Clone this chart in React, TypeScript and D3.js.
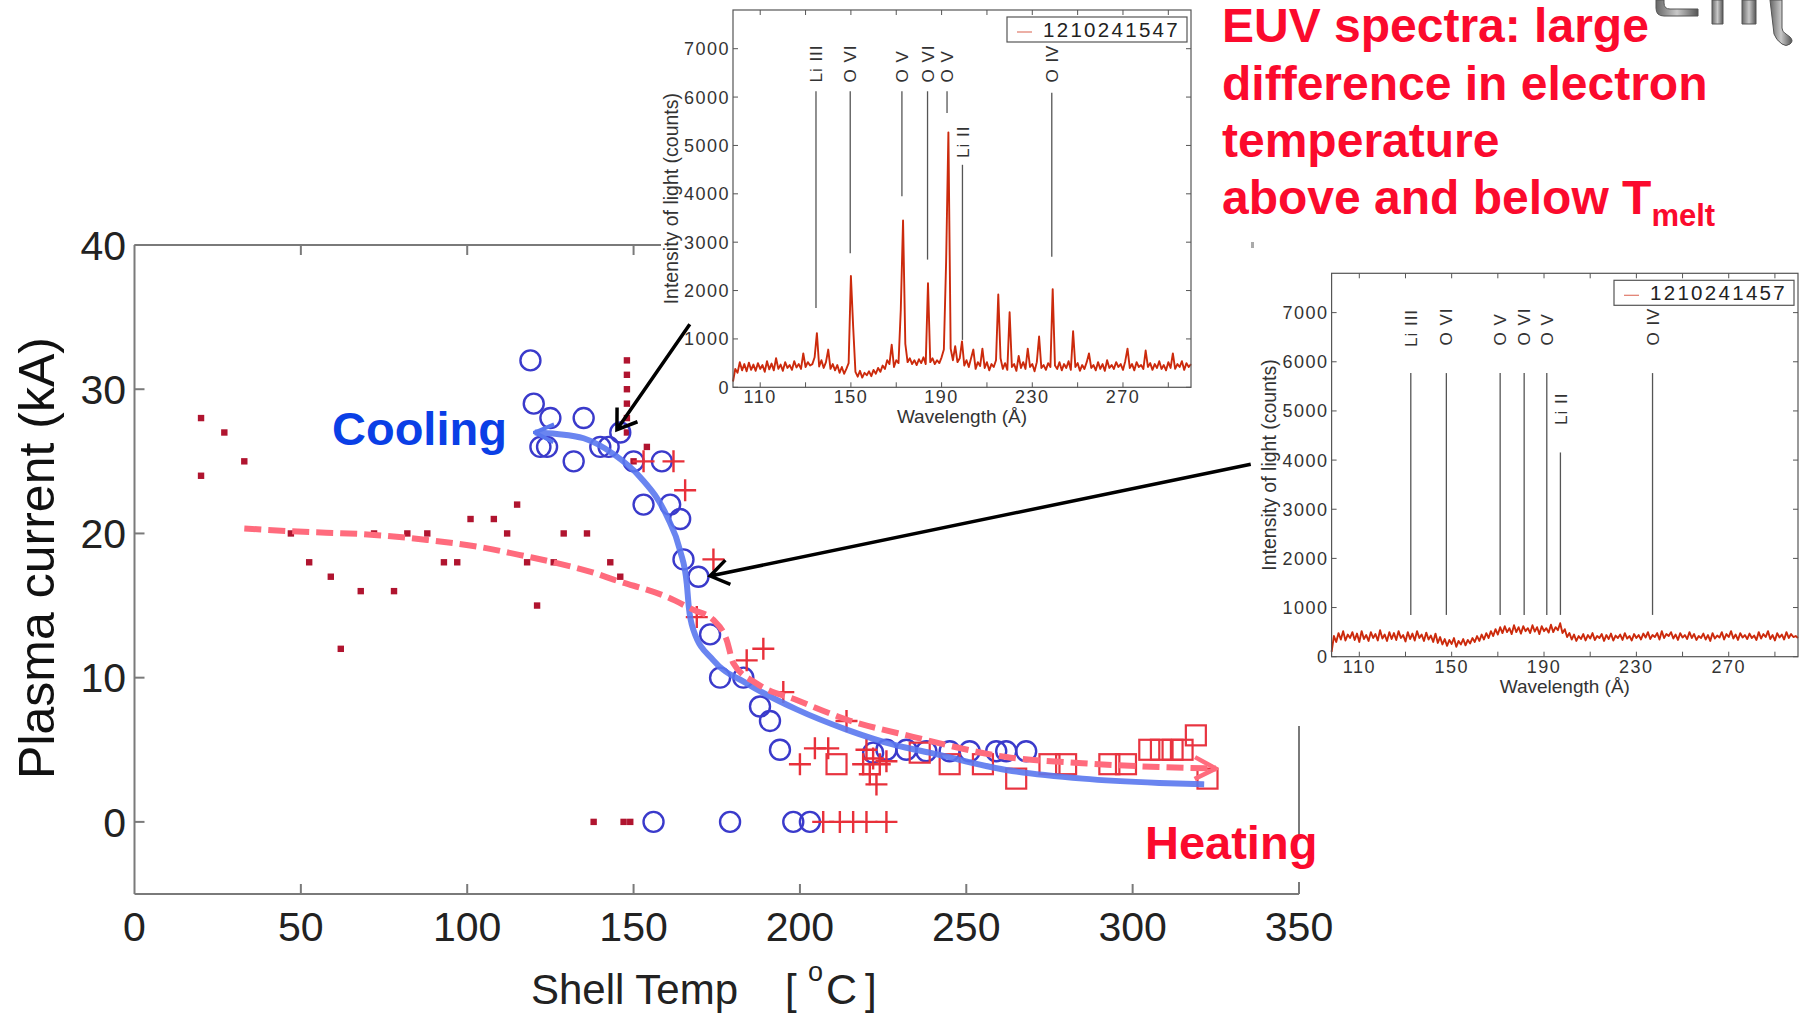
import * as d3 from "d3";

type Pt = [number, number];

const FONT = "'Liberation Sans', Arial, Helvetica, sans-serif";

// main chart: shell temperature (°C) vs plasma current (kA)
const xTicks = [0, 50, 100, 150, 200, 250, 300, 350];
const yTicks = [0, 10, 20, 30, 40];
const topTicks = [50, 100, 150];

const redDots: Pt[] = [
  [20, 28], [20, 24], [27, 27], [33, 25], [47, 20], [52.5, 18], [59, 17], [62, 12],
  [68, 16], [72, 20], [78, 16], [82, 20], [88, 20], [93, 18], [97, 18], [101, 21],
  [108, 21], [112, 20], [115, 22], [118, 18], [121, 15], [126, 18], [129, 20],
  [136, 20], [143, 18], [146, 17], [148, 32], [148, 31], [148, 30], [148, 29],
  [148, 28], [148, 27], [150, 25], [154, 26], [138, 0], [147, 0], [149, 0],
];

const blueCircles: Pt[] = [
  [119, 32], [120, 29], [125, 28], [135, 28], [146, 27], [122, 26], [124, 26],
  [140, 26], [142.5, 26], [132, 25], [150, 25], [158.5, 25], [153, 22], [161, 22],
  [164, 21], [165, 18.2], [169.5, 17], [173, 13], [176, 10], [183, 10], [188, 8],
  [191, 7], [194, 5], [222, 4.8], [226, 5], [232, 5.0], [238, 4.9], [245, 4.9],
  [251, 4.9], [259, 4.9], [262, 4.9], [268, 4.9], [156, 0], [179, 0], [198, 0], [203, 0],
];

const redCrosses: Pt[] = [
  [153, 25], [162, 25], [165.5, 23], [174, 18.2], [169, 14.2], [189, 12], [184, 11.2],
  [195, 9], [214, 7], [204.5, 5.1], [208.5, 5.1], [200, 4], [220, 5], [222, 4.4],
  [224, 4], [219, 4], [221, 3.3], [223, 2.6], [226, 4.2], [207, 0], [212, 0],
  [216, 0], [220, 0], [226, 0],
];

const redSquares: Pt[] = [
  [211, 4], [236, 4.8], [245, 4], [255, 4], [265, 3], [275, 4], [280, 4], [293, 4],
  [298, 4], [305, 5.0], [308.5, 5.0], [312, 5.0], [315, 5.0], [319, 6], [322.5, 3],
];

const coolingFit: Pt[] = [
  [120.3, 27], [127, 26.9], [135, 26.6], [144, 25.5], [152, 23.9], [160, 21.2],
  [164, 18.8], [166, 16.5], [166.6, 14.9], [168, 13.3], [174, 11.2], [184, 9.6],
  [199, 7.8], [214, 6.4], [229, 5.3], [239, 4.8], [262, 3.6], [285, 3.0],
  [308, 2.7], [321.5, 2.6],
];

const heatingFit: Pt[] = [
  [33, 20.35], [47, 20.15], [72, 19.9], [88, 19.55], [104, 19.05], [118, 18.4],
  [126, 18.0], [139, 17.2], [144, 16.8], [160, 15.6], [168, 14.7], [174, 14.0],
  [178, 12.6], [180, 11.0], [187, 9.6], [199, 8.45], [214, 7.1], [234, 5.9],
  [262, 4.5], [285, 4.07], [308, 3.8], [325, 3.7],
];

// EUV spectra (1 Å steps from specStart)
const specStart = 98;
const specXTicks = [110, 150, 190, 230, 270];
const specMinorTicks = [130, 170, 210, 250, 290];
const specYTicks = [0, 1000, 2000, 3000, 4000, 5000, 6000, 7000];

const spectrumAbove = [
  120, 380, 300, 520, 350, 480, 330, 510, 360, 470,
  340, 500, 380, 460, 320, 540, 370, 490, 350, 600,
  380, 470, 340, 520, 400, 460, 360, 540, 410, 480,
  380, 700, 420, 520, 450, 480, 620, 1120, 430, 560,
  400, 520, 780, 380, 480, 350, 460, 300, 420, 280,
  380, 500, 2300, 1250, 320, 220, 340, 200, 300, 250,
  330, 230, 360, 280, 400, 320, 450, 380, 560, 480,
  880, 420, 560, 500, 1600, 3450, 900, 520, 600, 480,
  560, 460, 580, 500, 620, 480, 2150, 520, 600, 480,
  560, 500, 620, 780, 2600, 5270, 800, 560, 850, 520,
  600, 950, 450, 560, 420, 600, 780, 380, 520, 440,
  800, 400, 520, 350, 480, 420, 560, 1920, 600, 380,
  500, 360, 1550, 420, 480, 340, 650, 400, 520, 380,
  800, 420, 480, 330, 520, 1050, 400, 460, 360, 500,
  420, 2030, 450, 380, 520, 350, 480, 400, 540, 360,
  1160, 420, 500, 340, 460, 380, 520, 700, 400, 460,
  350, 520, 380, 480, 340, 560, 400, 460, 380, 520,
  420, 480, 360, 540, 800, 400, 480, 350, 520, 420,
  460, 380, 760, 420, 500, 360, 480, 400, 540, 380,
  460, 350, 520, 400, 700, 380, 480, 420, 540, 360,
  500, 420, 480,
];

const spectrumBelow = [
  100, 420, 300, 480, 350, 520, 330, 450, 380, 500,
  340, 470, 300, 520, 360, 440, 320, 500, 380, 460,
  330, 540, 370, 450, 320, 500, 360, 480, 340, 520,
  380, 440, 310, 500, 360, 470, 330, 520, 380, 450,
  320, 490, 350, 430, 300, 470, 280, 400, 250, 360,
  220, 340, 260, 380, 200, 320, 250, 360, 230, 340,
  270, 380, 300, 420, 320, 450, 350, 480, 380, 520,
  420, 560, 450, 600, 480, 620, 500, 580, 460, 640,
  500, 600, 470, 620, 520, 580, 480, 640, 510, 600,
  460, 620, 520, 580, 490, 650, 500, 600, 540, 680,
  480, 560, 400, 480, 350, 450, 320, 420, 360, 460,
  330, 440, 370, 480, 340, 420, 380, 460, 320, 440,
  360, 470, 330, 430, 380, 450, 340, 480, 370, 420,
  330, 460, 380, 440, 350, 470, 390, 500, 360, 440,
  400, 480, 350, 520, 380, 460, 420, 500, 370, 450,
  340, 480, 390, 440, 360, 500, 380, 460, 340, 420,
  380, 470, 350, 440, 320, 480, 370, 430, 390, 500,
  350, 460, 400, 520, 370, 450, 340, 480, 390, 440,
  360, 470, 380, 430, 340, 500, 370, 460, 400, 520,
  360, 440, 330, 480, 390, 450, 350, 500, 380, 460,
  400, 420, 380,
];

type SpecLine = { label: string; w: number; lo: number; hi: number; at: number };

const linesAbove: SpecLine[] = [
  { label: "Li III", w: 134.6, lo: 1640, hi: 6120, at: 6300 },
  { label: "O VI", w: 149.7, lo: 2770, hi: 6120, at: 6300 },
  { label: "O V", w: 172.5, lo: 3950, hi: 6120, at: 6300 },
  { label: "O VI", w: 183.8, lo: 2640, hi: 6120, at: 6300 },
  { label: "O V", w: 192.4, lo: 5670, hi: 6120, at: 6300 },
  { label: "Li II", w: 199.2, lo: 980, hi: 4600, at: 4740 },
  { label: "O IV", w: 238.6, lo: 2700, hi: 6090, at: 6300 },
];

const linesBelow: SpecLine[] = [
  { label: "Li III", w: 132.3, lo: 850, hi: 5770, at: 6300 },
  { label: "O VI", w: 147.7, lo: 850, hi: 5770, at: 6330 },
  { label: "O V", w: 171, lo: 850, hi: 5770, at: 6330 },
  { label: "O VI", w: 181.4, lo: 850, hi: 5770, at: 6330 },
  { label: "O V", w: 191.2, lo: 850, hi: 5770, at: 6330 },
  { label: "Li II", w: 197.1, lo: 850, hi: 4155, at: 4714 },
  { label: "O IV", w: 237, lo: 850, hi: 5770, at: 6330 },
];

type SpecProps = {
  left: number; right: number; top: number; bottom: number;
  values: number[]; lines: SpecLine[]; shot: string; yLabelX: number;
};

function Spectrum({ left, right, top, bottom, values, lines, shot, yLabelX }: SpecProps) {
  const x = d3.scaleLinear().domain([98, 300]).range([left, right]);
  const y = d3.scaleLinear().domain([0, 7800]).range([bottom, top]);
  const path = d3.line<number>().x((_, i) => x(specStart + i)).y((d) => y(d));
  const tk = 5;
  const lx = right - 184;
  const ly = top + 7;
  return (
    <g fontFamily={FONT}>
      <path d={path(values) ?? ""} fill="none" stroke="#cc2a0c" strokeWidth={1.9} strokeLinejoin="round" />
      {lines.map((l, i) => (
        <g key={i}>
          <line x1={x(l.w)} x2={x(l.w)} y1={y(l.lo)} y2={y(l.hi)} stroke="#555" strokeWidth={1.3} />
          <text
            transform={`translate(${x(l.w)},${y(l.at)}) rotate(-90)`}
            dy="0.36em" fontSize={17} letterSpacing={1} fill="#333"
          >
            {l.label}
          </text>
        </g>
      ))}
      <rect x={left} y={top} width={right - left} height={bottom - top} fill="none" stroke="#555" strokeWidth={1.2} />
      {specXTicks.concat(specMinorTicks).map((t) => (
        <g key={t} stroke="#555" strokeWidth={1}>
          <line x1={x(t)} x2={x(t)} y1={bottom} y2={bottom - tk} />
          <line x1={x(t)} x2={x(t)} y1={top} y2={top + tk} />
        </g>
      ))}
      {specYTicks.map((t) => (
        <g key={t} stroke="#555" strokeWidth={1}>
          <line x1={left} x2={left + tk} y1={y(t)} y2={y(t)} />
          <line x1={right} x2={right - tk} y1={y(t)} y2={y(t)} />
        </g>
      ))}
      {specXTicks.map((t) => (
        <text key={t} x={x(t)} y={bottom + 16} textAnchor="middle" fontSize={18} letterSpacing={1.5} fill="#333">
          {t}
        </text>
      ))}
      {specYTicks.map((t) => (
        <text key={t} x={left - 3} y={y(t)} dy="0.36em" textAnchor="end" fontSize={18} letterSpacing={1.5} fill="#333">
          {t}
        </text>
      ))}
      <text x={(left + right) / 2} y={bottom + 36} textAnchor="middle" fontSize={19} fill="#333">
        Wavelength (Å)
      </text>
      <text
        transform={`translate(${yLabelX},${(top + bottom) / 2}) rotate(-90)`}
        textAnchor="middle" fontSize={19.5} fill="#333"
      >
        Intensity of light (counts)
      </text>
      <rect x={lx} y={ly} width={180} height={25} fill="#fff" stroke="#555" strokeWidth={1.2} />
      <line x1={lx + 10} x2={lx + 25} y1={ly + 15} y2={ly + 15} stroke="#e07a6a" strokeWidth={1.2} />
      <text x={lx + 36} y={ly + 19.5} fontSize={20.5} letterSpacing={2.3} fill="#222">
        {shot}
      </text>
    </g>
  );
}

function arrow(x1: number, y1: number, x2: number, y2: number, len = 22, ang = 0.6) {
  const a = Math.atan2(y1 - y2, x1 - x2);
  const p1 = [x2 + len * Math.cos(a + ang), y2 + len * Math.sin(a + ang)];
  const p2 = [x2 + len * Math.cos(a - ang), y2 + len * Math.sin(a - ang)];
  return `M${x1},${y1}L${x2},${y2}M${p1[0]},${p1[1]}L${x2},${y2}L${p2[0]},${p2[1]}`;
}

export default function App() {
  const x = d3.scaleLinear().domain([0, 350]).range([134.5, 1299]);
  const y = d3.scaleLinear().domain([-5, 40]).range([894, 245]);
  const fit = d3.line<Pt>().x((d) => x(d[0])).y((d) => y(d[1])).curve(d3.curveMonotoneX);
  const axisColor = "#7a7a7a";
  const tick = 10;

  return (
    <div style={{ position: "absolute", left: 0, top: 0 }}>
      <svg width={1803} height={1016} style={{ display: "block", background: "#fff" }} fontFamily={FONT}>
        <defs>
          <marker id="blueHead" viewBox="0 0 24 24" refX={22} refY={12} markerWidth={24} markerHeight={24}
            markerUnits="userSpaceOnUse" orient="auto-start-reverse">
            <path d="M3,3L22,12L3,21" fill="none" stroke="#5a78ee" strokeWidth={4} />
          </marker>
          <marker id="redHead" viewBox="0 0 26 26" refX={24} refY={13} markerWidth={26} markerHeight={26}
            markerUnits="userSpaceOnUse" orient="auto">
            <path d="M3,2L24,13L3,24" fill="none" stroke="#ff6b7d" strokeWidth={4.5} />
          </marker>
          <linearGradient id="logoGrad" x1="0" x2="1" y1="0" y2="0">
            <stop offset="0" stopColor="#666" />
            <stop offset="0.5" stopColor="#c8c8c8" />
            <stop offset="1" stopColor="#555" />
          </linearGradient>
        </defs>

        {/* axes frame */}
        <g stroke={axisColor} strokeWidth={2}>
          <line x1={x(0)} x2={x(0)} y1={y(40)} y2={y(-5)} />
          <line x1={x(0)} x2={x(350)} y1={y(-5)} y2={y(-5)} />
          <line x1={x(0)} x2={661} y1={y(40)} y2={y(40)} />
          <line x1={x(350)} x2={x(350)} y1={726} y2={835} />
          <line x1={x(350)} x2={x(350)} y1={882} y2={y(-5)} />
          {xTicks.slice(1, -1).map((t) => (
            <line key={t} x1={x(t)} x2={x(t)} y1={y(-5)} y2={y(-5) - tick} />
          ))}
          {topTicks.map((t) => (
            <line key={t} x1={x(t)} x2={x(t)} y1={y(40)} y2={y(40) + tick} />
          ))}
          {yTicks.map((t) => (
            <line key={t} x1={x(0)} x2={x(0) + tick} y1={y(t)} y2={y(t)} />
          ))}
        </g>
        <rect x={1251} y={242} width={3} height={6} fill="#aaa" />

        {xTicks.map((t) => (
          <text key={t} x={x(t)} y={941} textAnchor="middle" fontSize={41} fill="#222">{t}</text>
        ))}
        {yTicks.map((t) => (
          <text key={t} x={126} y={y(t)} dy="0.36em" textAnchor="end" fontSize={41} fill="#222">{t}</text>
        ))}
        <text transform="translate(54,558) rotate(-90)" textAnchor="middle" fontSize={50} fill="#111">
          Plasma current (kA)
        </text>
        <text x={531} y={1004} fontSize={42} fill="#222">Shell Temp</text>
        <text x={785} y={1004} fontSize={42} fill="#222">[</text>
        <text x={808} y={981} fontSize={27} fill="#222">o</text>
        <text x={826} y={1004} fontSize={43} fill="#222">C</text>
        <text x={865} y={1004} fontSize={42} fill="#222">]</text>

        {/* data */}
        {redDots.map((d, i) => (
          <rect key={i} x={x(d[0]) - 3.2} y={y(d[1]) - 3.2} width={6.4} height={6.4} fill="#b0142f" />
        ))}
        {blueCircles.map((d, i) => (
          <circle key={i} cx={x(d[0])} cy={y(d[1])} r={10} fill="none" stroke="#3a3acb" strokeWidth={2.4} />
        ))}
        {redCrosses.map((d, i) => (
          <path key={i} d={`M${x(d[0]) - 11},${y(d[1])}h22M${x(d[0])},${y(d[1]) - 11}v22`}
            stroke="#e8303a" strokeWidth={2.4} fill="none" />
        ))}
        {redSquares.map((d, i) => (
          <rect key={i} x={x(d[0]) - 10} y={y(d[1]) - 10} width={20} height={20}
            fill="none" stroke="#e83440" strokeWidth={2.2} />
        ))}

        <path d={fit(coolingFit) ?? ""} fill="none" stroke="#5a78ee" strokeWidth={6}
          strokeOpacity={0.9} markerStart="url(#blueHead)" />
        <path d={fit(heatingFit) ?? ""} fill="none" stroke="#ff6b7d" strokeWidth={6}
          strokeDasharray="17 7" markerEnd="url(#redHead)" />

        <path d={arrow(x(166.9), y(34.5), x(145), y(27.2))} stroke="#000" strokeWidth={3.5} fill="none" />
        <path d={arrow(x(335.5), y(24.8), x(173), y(17.05))} stroke="#000" strokeWidth={3.5} fill="none" />

        <text x={332} y={445} fontSize={47} fontWeight="bold" fill="#0a3fe6">Cooling</text>
        <text x={1145} y={859} fontSize={47} fontWeight="bold" fill="#fb0a2d">Heating</text>

        {/* EUV spectra insets */}
        <Spectrum left={733} right={1191} top={10} bottom={387.3} values={spectrumAbove}
          lines={linesAbove} shot="1210241547" yLabelX={678} />
        <Spectrum left={1331.6} right={1798} top={273.3} bottom={656.7} values={spectrumBelow}
          lines={linesBelow} shot="1210241457" yLabelX={1276} />

        <g fontSize={48} fontWeight="bold" fill="#fb0a2d">
          <text x={1222} y={42}>EUV spectra: large</text>
          <text x={1222} y={100}>difference in electron</text>
          <text x={1222} y={157}>temperature</text>
          <text x={1222} y={214}>
            above and below T<tspan fontSize={31} dy={12}>melt</tspan>
          </text>
        </g>

        {/* clipped logo at the top right */}
        <g fill="url(#logoGrad)" stroke="#555" strokeWidth={1}>
          <path d="M1656,0v8q0,8 8,8h34v-7h-28q-6,0-6-6v-3z" />
          <path d="M1712,0h11v24h-11z" />
          <path d="M1742,0h14v24h-14z" />
          <path d="M1770,0h12v28q0,4 4,6l4,3q4,4 0,7t-8,0q-6-4-8-10z" />
        </g>
      </svg>
    </div>
  );
}
